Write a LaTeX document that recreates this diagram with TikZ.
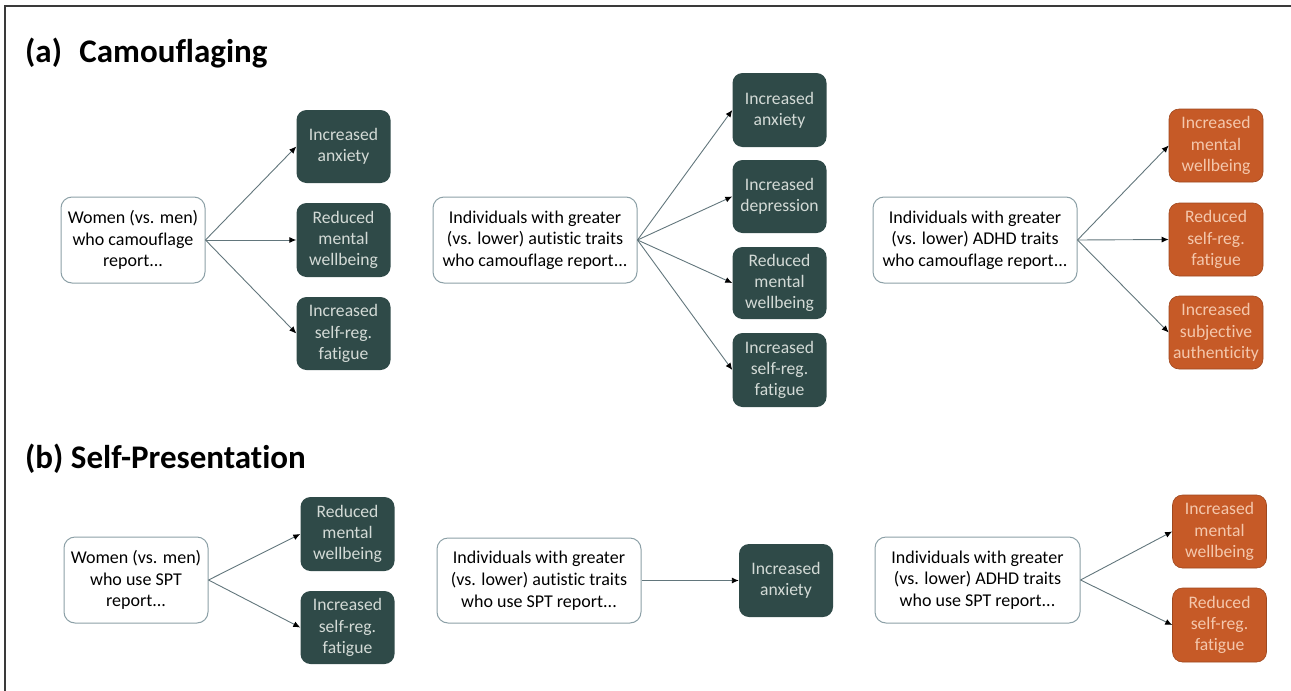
\documentclass[tikz,border=0pt]{standalone}
\usepackage{fontspec}
\setmainfont{Carlito}[Ligatures=NoCommon]
\usetikzlibrary{arrows.meta}
\definecolor{darkbox}{HTML}{2F4A48}
\definecolor{darktext}{HTML}{D3DAD6}
\definecolor{orangebox}{HTML}{C65A27}
\definecolor{orangetext}{HTML}{F4C7AC}
\definecolor{srcborder}{HTML}{8CA0A7}
\definecolor{arrowcol}{HTML}{62767C}
\definecolor{framecol}{HTML}{3A3A3A}
\tikzset{
  srcbox/.style={draw=srcborder, line width=1pt, fill=white, rounded corners=11pt,
    inner sep=0pt, align=center, text=black, font=\fontsize{18}{21.7}\selectfont},
  darkout/.style={fill=darkbox, rounded corners=10pt, inner sep=0pt, align=center,
    text=darktext, minimum width=94pt, font=\fontsize{17.6}{21.2}\selectfont},
  orangeout/.style={fill=orangebox, draw=orangebox!80!black, line width=0.6pt, rounded corners=10pt, inner sep=0pt, align=center,
    text=orangetext, minimum width=94pt, font=\fontsize{17.6}{21.2}\selectfont},
  link/.style={draw=arrowcol, line width=0.9pt, -{Latex[length=7pt,width=6pt,color=black]}},
  paneltitle/.style={anchor=west, inner sep=0pt, font=\fontsize{33}{36}\selectfont\bfseries}
}
\begin{document}
\begin{tikzpicture}[x=1pt,y=-1pt]
\useasboundingbox (0,0) rectangle (1291,691);
% frame (left and top only)
\draw[framecol, line width=2pt] (5,691) -- (5,6) -- (1291,6);

% titles
\node[paneltitle] (ta) at (25,53) {(a)\hspace{0.3em} Camouflaging};
\node[paneltitle] (tb) at (25,459) {(b) Self-Presentation};

% ---------- panel a ----------
\node[srcbox, minimum width=144pt, minimum height=86pt] (wa) at (133,240)
  {Women (vs. men)\\who camouflage\\report...};
\node[darkout, minimum height=73pt] (a1) at (343.5,146.5) {Increased\\anxiety};
\node[darkout, minimum height=74pt] (a2) at (343.5,240) {Reduced\\mental\\wellbeing};
\node[darkout, minimum height=73pt] (a3) at (343.5,333.5) {Increased\\self-reg.\\fatigue};

\node[srcbox, minimum width=204pt, minimum height=86pt] (ma) at (535,240)
  {Individuals with greater\\(vs. lower) autistic traits\\who camouflage report...};
\node[darkout, minimum height=74pt] (m1) at (779.5,110) {Increased\\anxiety};
\node[darkout, minimum height=73pt] (m2) at (779.5,196.5) {Increased\\depression};
\node[darkout, minimum height=72pt] (m3) at (779.5,283) {Reduced\\mental\\wellbeing};
\node[darkout, minimum height=74pt] (m4) at (779.5,370) {Increased\\self-reg.\\fatigue};

\node[srcbox, minimum width=204pt, minimum height=86pt] (ra) at (975,240)
  {Individuals with greater\\(vs. lower) ADHD traits\\who camouflage report...};
\node[orangeout, minimum height=73pt] (r1) at (1216,145.5) {Increased\\mental\\wellbeing};
\node[orangeout, minimum height=73pt] (r2) at (1216,239.5) {Reduced\\self-reg.\\fatigue};
\node[orangeout, minimum height=73pt] (r3) at (1216,332.5) {Increased\\subjective\\authenticity};

\foreach \t in {a1,a2,a3} \draw[link] (wa.east) -- (\t.west);
\foreach \t in {m1,m2,m3,m4} \draw[link] (ma.east) -- (\t.west);
\foreach \t in {r1,r2,r3} \draw[link] (ra.east) -- (\t.west);

% ---------- panel b ----------
\node[srcbox, minimum width=144pt, minimum height=86pt] (wb) at (136,580)
  {Women (vs. men)\\who use SPT\\report...};
\node[darkout, minimum height=74pt] (b1) at (347.5,534) {Reduced\\mental\\wellbeing};
\node[darkout, minimum height=73pt] (b2) at (347.5,627.5) {Increased\\self-reg.\\fatigue};

\node[srcbox, minimum width=204pt, minimum height=85pt] (mb) at (539,580.5)
  {Individuals with greater\\(vs. lower) autistic traits\\who use SPT report...};
\node[darkout, minimum height=73pt] (mb1) at (786,580.5) {Increased\\anxiety};

\node[srcbox, minimum width=205pt, minimum height=86pt] (rb) at (977.5,580)
  {Individuals with greater\\(vs. lower) ADHD traits\\who use SPT report...};
\node[orangeout, minimum height=73pt] (rb1) at (1219.5,531.5) {Increased\\mental\\wellbeing};
\node[orangeout, minimum height=74pt] (rb2) at (1219.5,625) {Reduced\\self-reg.\\fatigue};

\foreach \t in {b1,b2} \draw[link] (wb.east) -- (\t.west);
\draw[link] (mb.east) -- (mb1.west);
\foreach \t in {rb1,rb2} \draw[link] (rb.east) -- (\t.west);
\end{tikzpicture}
\end{document}
